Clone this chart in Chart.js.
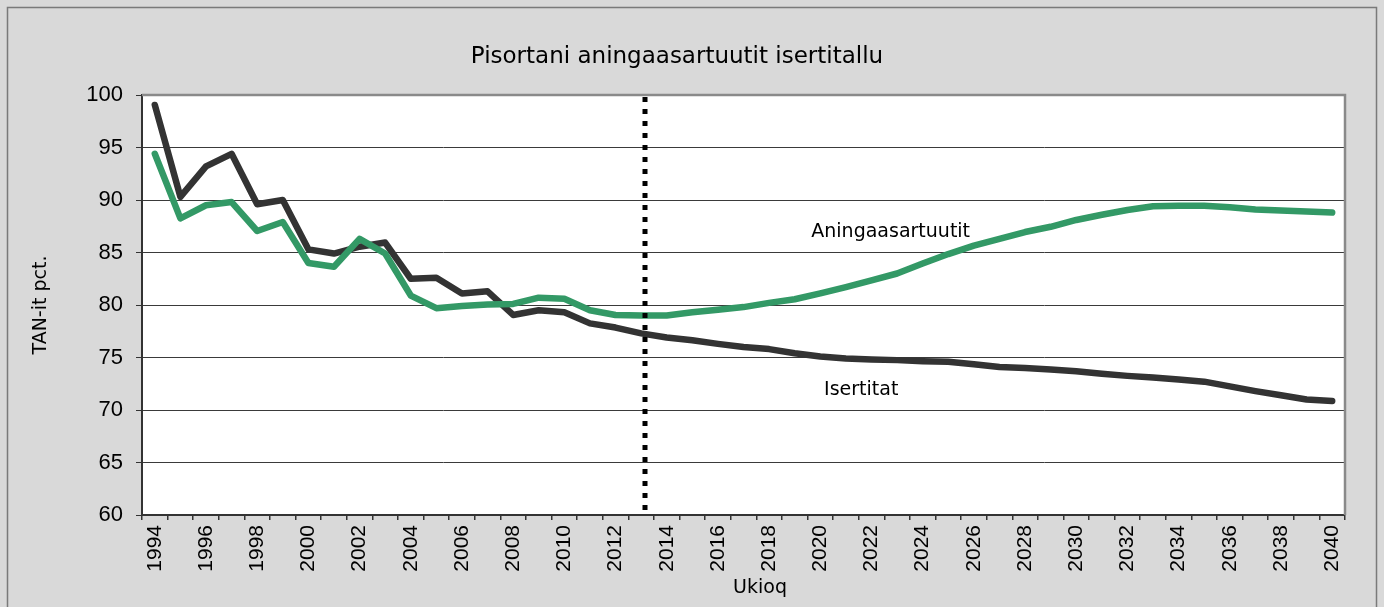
<!DOCTYPE html>
<html>
<head>
<meta charset="utf-8">
<script src="https://cdn.jsdelivr.net/npm/chart.js@4.4.1/dist/chart.umd.min.js"></script>
<style>
  html, body { margin: 0; padding: 0; background: #d9d9d9; }
  #wrap { width: 1384px; height: 607px; }
</style>
</head>
<body>
<div id="wrap"><canvas id="c" width="1384" height="607"></canvas></div>
<script>
const chartTitle = 'Pisortani aningaasartuutit isertitallu';
const xAxisTitle = 'Ukioq';
const yAxisTitle = 'TAN-it pct.';

const years = ['1994','1995','1996','1997','1998','1999','2000','2001','2002','2003',
  '2004','2005','2006','2007','2008','2009','2010','2011','2012','2013',
  '2014','2015','2016','2017','2018','2019','2020','2021','2022','2023',
  '2024','2025','2026','2027','2028','2029','2030','2031','2032','2033',
  '2034','2035','2036','2037','2038','2039','2040'];

// Aningaasartuutit (expenditure), green
const aningaasartuutit = [94.4, 88.25, 89.5, 89.8, 87.05, 87.9, 84.0, 83.65, 86.3, 84.9,
  80.9, 79.7, 79.9, 80.05, 80.1, 80.7, 80.6, 79.5, 79.05, 79.0,
  79.0, 79.3, 79.55, 79.8, 80.2, 80.55, 81.1, 81.7, 82.35, 83.0,
  83.95, 84.85, 85.65, 86.3, 86.95, 87.45, 88.1, 88.6, 89.05, 89.4,
  89.45, 89.45, 89.3, 89.1, 89.0, 88.9, 88.8];

// Isertitat (revenue), black
const isertitat = [99.05, 90.3, 93.2, 94.4, 89.6, 90.0, 85.3, 84.9, 85.55, 85.95,
  82.5, 82.6, 81.1, 81.3, 79.05, 79.5, 79.3, 78.25, 77.85, 77.3,
  76.9, 76.65, 76.3, 76.0, 75.8, 75.4, 75.1, 74.9, 74.8, 74.75,
  74.65, 74.6, 74.35, 74.1, 74.0, 73.85, 73.7, 73.45, 73.25, 73.1,
  72.9, 72.7, 72.25, 71.8, 71.4, 71.0, 70.85];

const yTicks = [60, 65, 70, 75, 80, 85, 90, 95, 100];
const dividerPos = 19.15; // just right of 2013

// in-chart series labels (category index, value)
const seriesLabels = [
  { text: 'Aningaasartuutit', idx: 28.75, val: 86.9 },
  { text: 'Isertitat', idx: 27.6, val: 71.9 }
];

const decor = {
  id: 'decor',
  beforeDraw(chart) {
    const { ctx, chartArea: a } = chart;
    ctx.save();
    ctx.fillStyle = '#d9d9d9';
    ctx.fillRect(0, 0, chart.width, chart.height);
    ctx.strokeStyle = '#7a7a7a';
    ctx.lineWidth = 1.5;
    ctx.strokeRect(7.5, 7.5, 1369, 640);
    ctx.fillStyle = '#ffffff';
    ctx.fillRect(a.left, a.top, a.right - a.left, a.bottom - a.top);
    ctx.fillStyle = '#000';
    ctx.font = '23px "DejaVu Sans"';
    ctx.textAlign = 'center';
    ctx.textBaseline = 'middle';
    ctx.fillText(chartTitle, 677, 57);
    ctx.restore();
  },
  afterDatasetsDraw(chart) {
    const { ctx, chartArea: a, scales } = chart;
    ctx.save();
    ctx.strokeStyle = '#8a8a8a';
    ctx.lineWidth = 2.5;
    ctx.beginPath();
    ctx.moveTo(a.left, a.top);
    ctx.lineTo(a.right, a.top);
    ctx.lineTo(a.right, a.bottom);
    ctx.stroke();
    const x = Math.round(scales.x.getPixelForValue(dividerPos));
    ctx.strokeStyle = '#000';
    ctx.lineWidth = 5;
    ctx.setLineDash([5, 7]);
    ctx.beginPath();
    ctx.moveTo(x, a.top + 2);
    ctx.lineTo(x, a.bottom);
    ctx.stroke();
    ctx.setLineDash([]);
    ctx.fillStyle = '#000';
    ctx.font = '19px "DejaVu Sans"';
    ctx.textAlign = 'center';
    ctx.textBaseline = 'middle';
    seriesLabels.forEach(l => {
      ctx.fillText(l.text, scales.x.getPixelForValue(l.idx), scales.y.getPixelForValue(l.val));
    });
    ctx.fillText(xAxisTitle, 760, 588);
    ctx.restore();
  }
};

new Chart(document.getElementById('c'), {
  type: 'line',
  data: {
    labels: years,
    datasets: [
      {
        label: 'Aningaasartuutit',
        data: aningaasartuutit,
        borderColor: '#339966',
        borderWidth: 6.5,
        pointRadius: 0,
        tension: 0,
        borderCapStyle: 'round',
        borderJoinStyle: 'round',
        order: 0
      },
      {
        label: 'Isertitat',
        data: isertitat,
        borderColor: '#333333',
        borderWidth: 6.5,
        pointRadius: 0,
        tension: 0,
        borderCapStyle: 'round',
        borderJoinStyle: 'round',
        order: 1
      }
    ]
  },
  options: {
    responsive: false,
    animation: false,
    devicePixelRatio: 1,
    layout: { padding: { left: 0, right: 39, top: 95, bottom: 0 } },
    plugins: { legend: { display: false }, title: { display: false }, tooltip: { enabled: false } },
    scales: {
      x: {
        type: 'category',
        offset: true,
        afterFit(s) { s.height = 92; },
        grid: { display: true, drawOnChartArea: false, offset: true, color: '#333', tickLength: 5, tickColor: '#333', lineWidth: 1.5 },
        border: { display: true, color: '#333', width: 2 },
        ticks: {
          autoSkip: false,
          maxRotation: 90,
          minRotation: 90,
          padding: 5,
          color: '#000',
          font: { family: '"Liberation Sans", Arial', size: 21 },
          callback(v, i) { const y = years[i]; return (parseInt(y) % 2 === 0) ? y : ''; }
        }
      },
      y: {
        min: 60,
        max: 100,
        afterFit(s) { s.width = 142; },
        afterBuildTicks(s) { s.ticks = yTicks.map(v => ({ value: v })); },
        grid: { color: '#3a3a3a', lineWidth: 1, tickLength: 6, tickColor: '#333' },
        border: { display: true, color: '#333', width: 2 },
        ticks: {
          padding: 13,
          color: '#000',
          font: { family: '"Liberation Sans", Arial', size: 22 }
        },
        title: {
          display: true,
          text: yAxisTitle,
          color: '#000',
          font: { family: '"DejaVu Sans"', size: 19 },
          padding: { top: 30, bottom: 0 }
        }
      }
    }
  },
  plugins: [decor]
});
</script>
</body>
</html>
